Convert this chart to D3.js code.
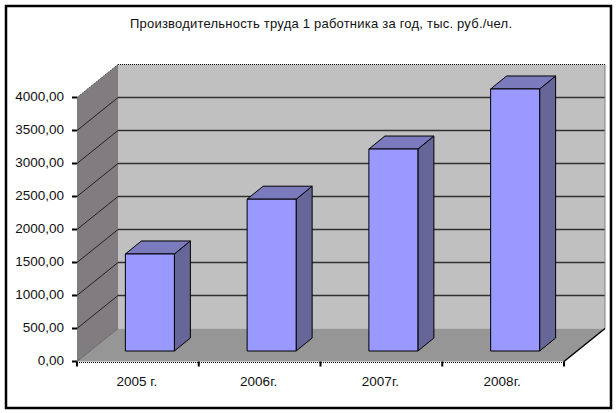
<!DOCTYPE html>
<html><head><meta charset="utf-8">
<script src="https://cdn.jsdelivr.net/npm/d3@7/dist/d3.min.js"></script>
<style>html,body{margin:0;padding:0;background:#fff}svg{display:block}text{font-family:"Liberation Sans",Arial,sans-serif;fill:#111}</style>
</head><body><svg id="c" width="616" height="413"></svg>
<script>
const categories=["2005 г.","2006г.","2007г.","2008г."];
const values=[1470,2300,3060,3970];
const yTicks=[0,500,1000,1500,2000,2500,3000,3500,4000];
const titleText="Производительность труда 1 работника за год, тыс. руб./чел.";
const svg=d3.select("#c");
const x=d3.scaleBand().domain(categories).range([77,564]);
const y=d3.scaleLinear().domain([0,4000]).range([361.5,97.5]);
const dx=41,dy=-33;
const fmt=v=>d3.format(".2f")(v).replace(".",",");
const poly=(pts,fill,stroke,sw)=>svg.append("polygon").attr("points",pts.map(p=>p.join(",")).join(" ")).attr("fill",fill).attr("stroke",stroke||"none").attr("stroke-width",sw||1);
svg.append("rect").attr("x",6).attr("y",6).attr("width",605).attr("height",402).attr("fill","#fff").attr("stroke","#000").attr("stroke-width",2.5);
svg.append("text").attr("x",321).attr("y",28).attr("text-anchor","middle").attr("font-size",13).attr("textLength",382).text(titleText);
const [x0,x1]=x.range(),yb=y(0),yt=y(4000);
poly([[x0+dx,yb+dy],[x1+dx,yb+dy],[x1+dx,yt+dy],[x0+dx,yt+dy]],"#c0c0c0");
poly([[x0,yb],[x0+dx,yb+dy],[x0+dx,yt+dy],[x0,yt]],"#807c80");
poly([[x0,yb],[x1,yb],[x1+dx,yb+dy],[x0+dx,yb+dy]],"#969696");
yTicks.forEach(t=>{
 const py=y(t);
 if(t>0&&t<4000||t===4000){svg.append("line").attr("x1",x0+dx).attr("x2",x1+dx).attr("y1",py+dy).attr("y2",py+dy).attr("stroke",t===4000?"#000":"#303030").attr("stroke-width",t===4000?1:1.5).attr("stroke-dasharray",t===4000?"1,1":null);}
 if(t<4000){svg.append("line").attr("x1",x0).attr("x2",x0+dx).attr("y1",py).attr("y2",py+dy).attr("stroke",t===0?"#666":"#222").attr("stroke-width",1);}
 svg.append("line").attr("x1",x0-5).attr("x2",x0).attr("y1",py).attr("y2",py).attr("stroke","#000").attr("stroke-width",2);
 svg.append("text").attr("x",64).attr("y",py+3.5).attr("text-anchor","end").attr("font-size",13.5).text(fmt(t));
});
svg.append("line").attr("x1",x0).attr("x2",x0+dx).attr("y1",yt).attr("y2",yt+dy).attr("stroke","#555").attr("stroke-width",1).attr("stroke-dasharray","2,1");
svg.append("line").attr("x1",x1+dx).attr("x2",x1+dx).attr("y1",yt+dy).attr("y2",yb+dy).attr("stroke","#808080");
svg.append("line").attr("x1",x0).attr("x2",x1).attr("y1",yb+1).attr("y2",yb+1).attr("stroke","#000").attr("stroke-dasharray","1,1");
svg.append("line").attr("x1",x1).attr("x2",x1+dx).attr("y1",yb).attr("y2",yb+dy).attr("stroke","#000").attr("stroke-width",1.5);
const bw=49,bdx=16,bdy=-13,offX=12-bw/2,offY=-10.5;
categories.forEach((c,i)=>{
 const l=x(c)+x.bandwidth()/2+offX,r=l+bw,b=yb+offY,t=y(values[i])+offY;
 poly([[r,b],[r+bdx,b+bdy],[r+bdx,t+bdy],[r,t]],"#666699","#000");
 poly([[l,t],[r,t],[r+bdx,t+bdy],[l+bdx,t+bdy]],"#7a7abd","#000");
 poly([[l,b],[r,b],[r,t],[l,t]],"#9999ff","#000");
 svg.append("text").attr("x",x(c)+x.bandwidth()/2-1).attr("y",385.5).attr("text-anchor","middle").attr("font-size",13.5).text(c);
});
x.domain().concat([null]).forEach((c,i)=>{
 const px=x0+i*x.step();
 svg.append("line").attr("x1",px).attr("x2",px).attr("y1",yb).attr("y2",yb+5).attr("stroke","#000").attr("stroke-width",2);
});
</script></body></html>
